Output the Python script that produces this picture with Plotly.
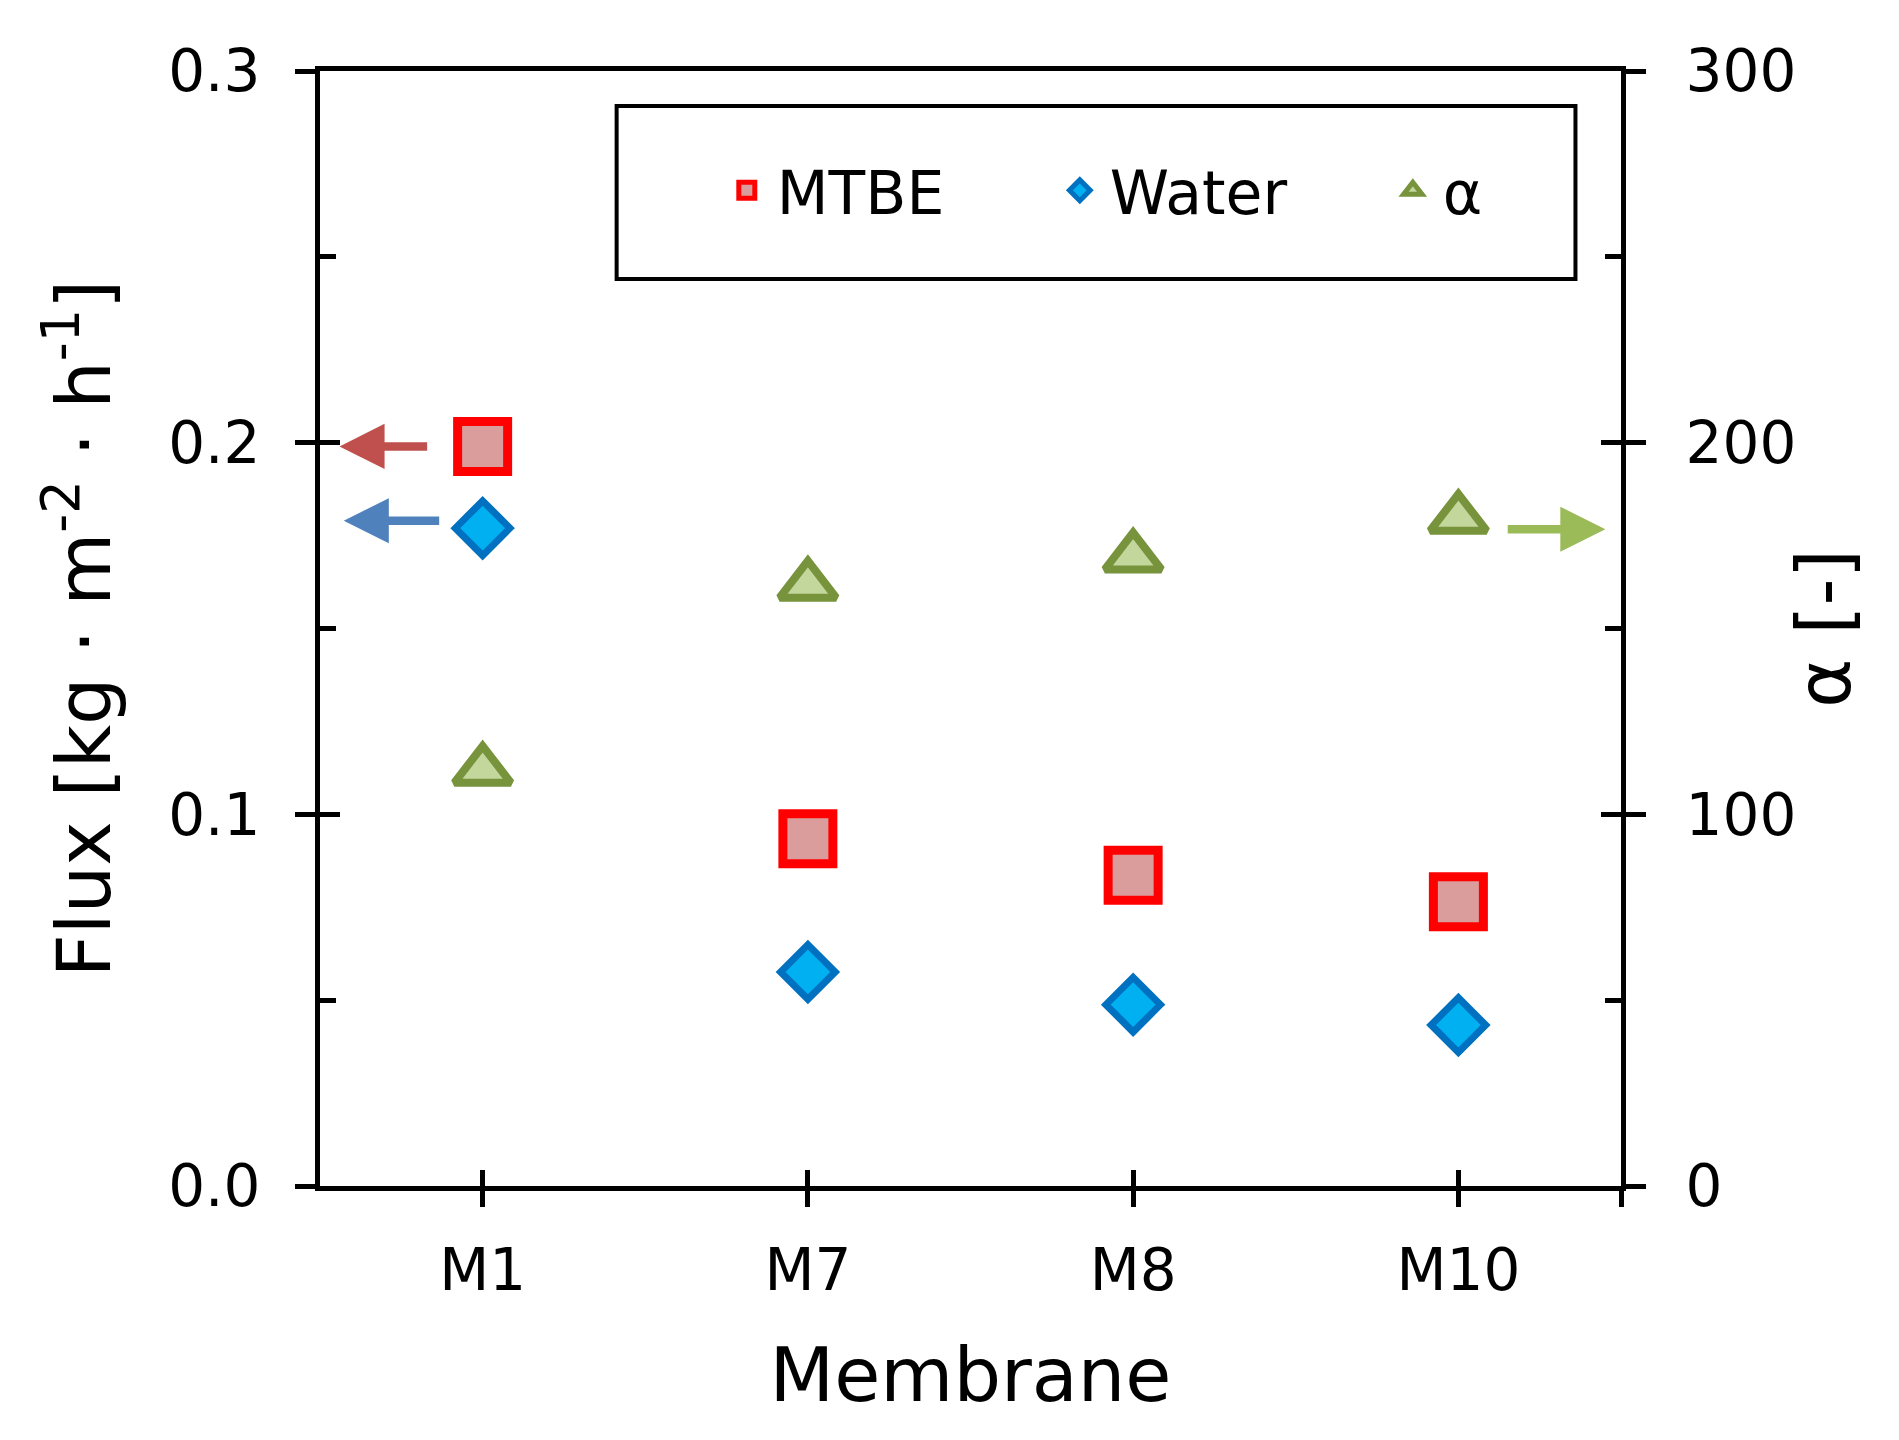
import plotly.graph_objects as go

membranes = ["M1", "M7", "M8", "M10"]
flux_mtbe = [0.199, 0.0934, 0.0836, 0.0765]
flux_water = [0.177, 0.0576, 0.0488, 0.0433]
alpha = [111.8, 161.6, 169.2, 179.6]

left_ticks = [0.0, 0.1, 0.2, 0.3]
right_ticks = [0, 100, 200, 300]

FONT = "DejaVu Sans"
xpos = list(range(len(membranes)))
xmax = xpos[-1] + 0.5

fig = go.Figure()

fig.add_trace(go.Scatter(
    x=xpos, y=flux_mtbe, mode="markers", name="MTBE",
    marker=dict(symbol="square", size=50, color="#DA9D9B",
                line=dict(color="#FF0000", width=9)),
    xaxis="x", yaxis="y"))
fig.add_trace(go.Scatter(
    x=xpos, y=flux_water, mode="markers", name="Water",
    marker=dict(symbol="diamond", size=42, color="#00B0F0",
                line=dict(color="#0070C0", width=7)),
    xaxis="x", yaxis="y"))
fig.add_trace(go.Scatter(
    x=xpos, y=alpha, mode="markers", name="α",
    marker=dict(symbol="triangle-up", size=49, color="#C3D69B",
                line=dict(color="#77933C", width=8)),
    xaxis="x", yaxis="y2"))

# empty helper traces so the overlay axes (inner half of crossing ticks) are drawn
for xa, ya in [("x2", "y"), ("x", "y3"), ("x", "y4")]:
    fig.add_trace(go.Scatter(x=[], y=[], xaxis=xa, yaxis=ya, showlegend=False,
                             hoverinfo="skip"))

tickfont = dict(family=FONT, size=58, color="black")
titlefont = dict(family=FONT, size=75, color="black")
LW = 5

fig.update_layout(
    width=1899, height=1440, autosize=False,
    paper_bgcolor="white", plot_bgcolor="white",
    margin=dict(l=312, r=286, t=63, b=262),
    font=dict(family=FONT, color="black"),
    showlegend=True,
    legend=dict(orientation="h", x=0.305, y=0.893, xanchor="left", yanchor="middle",
                font=dict(family=FONT, size=60, color="black"),
                bgcolor="rgba(0,0,0,0)", borderwidth=0,
                entrywidth=268, entrywidthmode="pixels", itemwidth=50),
    xaxis=dict(range=[-0.5, xmax], tickmode="array",
               tickvals=xpos + [xmax], ticktext=membranes + [""],
               ticks="outside", ticklen=16, tickwidth=LW, tickcolor="black",
               showline=True, linewidth=LW, linecolor="black", mirror=True,
               showgrid=False, zeroline=False, tickfont=tickfont,
               ticklabelstandoff=13,
               title=dict(text="Membrane", font=titlefont, standoff=47)),
    xaxis2=dict(range=[-0.5, xmax], overlaying="x", anchor="y", tickmode="array",
                tickvals=xpos, ticks="inside", ticklen=16, tickwidth=LW,
                tickcolor="black", showticklabels=False, showline=False,
                showgrid=False, zeroline=False),
    yaxis=dict(range=[0, 0.3], tickmode="array", tickvals=left_ticks,
               ticktext=[f"{v:.1f}" for v in left_ticks],
               ticks="outside", ticklen=20, tickwidth=LW, tickcolor="black",
               minor=dict(ticks="inside", ticklen=16, tickwidth=LW, tickcolor="black",
                          tickvals=[0.05, 0.15, 0.25], showgrid=False),
               showline=True, linewidth=LW, linecolor="black",
               showgrid=False, zeroline=False, tickfont=tickfont,
               ticklabelstandoff=23,
               title=dict(text="Flux [kg · m<sup>-2</sup> · h<sup>-1</sup>]",
                          font=titlefont, standoff=34)),
    yaxis3=dict(range=[0, 0.3], overlaying="y", side="left", anchor="x",
                tickmode="array", tickvals=left_ticks, ticks="inside",
                ticklen=20, tickwidth=LW, tickcolor="black",
                showticklabels=False, showline=False, showgrid=False,
                zeroline=False),
    yaxis2=dict(range=[0, 300], overlaying="y", side="right", anchor="x",
                tickmode="array", tickvals=right_ticks,
                ticks="outside", ticklen=20, tickwidth=LW, tickcolor="black",
                minor=dict(ticks="inside", ticklen=16, tickwidth=LW, tickcolor="black",
                           tickvals=[50, 150, 250], showgrid=False),
                showline=True, linewidth=LW, linecolor="black",
                showgrid=False, zeroline=False, tickfont=tickfont,
                ticklabelstandoff=28,
                title=dict(text="α [-]", font=titlefont, standoff=4)),
    yaxis4=dict(range=[0, 300], overlaying="y", side="right", anchor="x",
                tickmode="array", tickvals=right_ticks, ticks="inside",
                ticklen=20, tickwidth=LW, tickcolor="black",
                showticklabels=False, showline=False, showgrid=False,
                zeroline=False),
)

# legend frame
fig.add_shape(type="rect", xref="paper", yref="paper",
              x0=0.228, x1=0.965, y0=0.8134, y1=0.9686,
              line=dict(color="black", width=4), fillcolor="rgba(0,0,0,0)",
              layer="above")

# arrows pointing to the relevant axis
arrow_specs = [
    # (tip x, tail x, y, yref, color)
    (-0.44, -0.166, flux_mtbe[0], "y", "#C0504D"),
    (-0.427, -0.129, 0.179, "y", "#4F81BD"),
    (3.452, 3.147, 176.7, "y2", "#9BBB59"),
]
for tipx, tailx, yv, yref, col in arrow_specs:
    fig.add_annotation(x=tipx, y=yv, xref="x", yref=yref,
                       ax=tailx, ay=yv, axref="x", ayref=yref,
                       text="", showarrow=True, arrowhead=2, arrowsize=1.06,
                       arrowwidth=8.5, arrowcolor=col, standoff=0)

fig.write_html("out.html")
